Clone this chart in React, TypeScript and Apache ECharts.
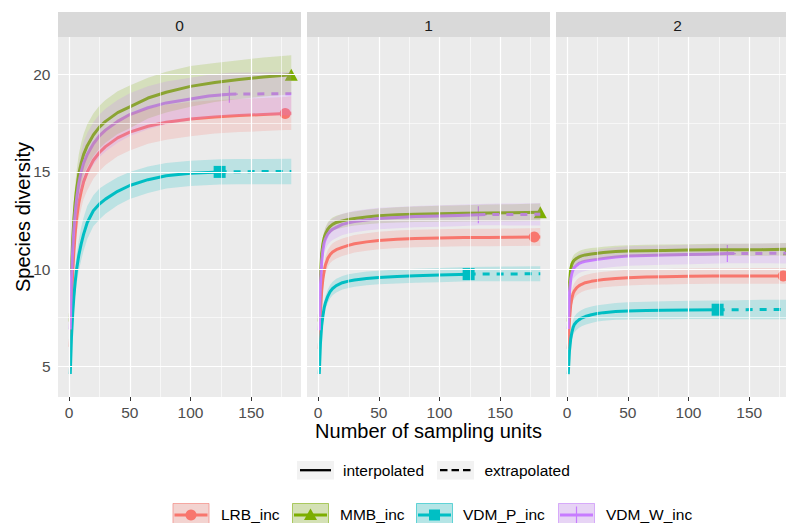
import React, { useEffect, useRef } from "react";
import * as echarts from "echarts";

const FONT = "'Liberation Sans', Arial, Helvetica, sans-serif";

// Facets: diversity order q
const orders = ["0", "1", "2"];
const xTicks = [0, 50, 100, 150];
const xMinorTicks = [25, 75, 125, 175];
const yTicks = [5, 10, 15, 20];
const yMinorTicks = [7.5, 12.5, 17.5];

const assemblageNames = ["LRB_inc", "MMB_inc", "VDM_P_inc", "VDM_W_inc"];
const palette = ["#F8766D", "#7CAE00", "#00BFC4", "#C77CFF"];
const methodNames = ["interpolated", "extrapolated"];

// Sampling units along each curve; the reference size splits interpolation / extrapolation
const tLRB = [1, 2, 3, 4, 5, 6, 8, 10, 12, 15, 20, 25, 30, 40, 50, 65, 80, 100, 120, 140, 160, 178, 183];
const tMMB = [1, 2, 3, 4, 5, 6, 8, 10, 12, 15, 20, 25, 30, 40, 50, 65, 80, 100, 120, 140, 160, 183];
const tVDMP = [1, 2, 3, 4, 5, 6, 8, 10, 12, 15, 20, 25, 30, 40, 50, 65, 80, 100, 124, 140, 160, 183];
const tVDMW = [1, 2, 3, 4, 5, 6, 8, 10, 12, 15, 20, 25, 30, 40, 50, 65, 80, 100, 115, 132, 150, 166, 183];
const obsLRB = 178;
const obsMMB = 183;
const obsVDMP = 124;
const obsVDMW = 132;

// q = 0 (richness): estimates and 95% CI half-widths
const lrbQ0 = [6.0, 8.3, 9.8, 10.9, 11.8, 12.5, 13.4, 14.0, 14.5, 15.0, 15.6, 16.0, 16.3, 16.75, 17.05, 17.35, 17.55, 17.72, 17.83, 17.9, 17.95, 18.0, 18.02];
const lrbQ0Ci = [0.3, 0.5, 0.6, 0.7, 0.75, 0.8, 0.85, 0.9, 0.9, 0.95, 0.95, 0.95, 0.95, 0.95, 0.95, 0.9, 0.9, 0.88, 0.86, 0.85, 0.85, 0.85, 0.87];
const mmbQ0 = [7.3, 10.0, 11.5, 12.6, 13.4, 14.0, 14.9, 15.45, 15.9, 16.35, 16.9, 17.3, 17.6, 18.05, 18.35, 18.8, 19.1, 19.4, 19.6, 19.75, 19.88, 20.0];
const mmbQ0Ci = [0.35, 0.6, 0.75, 0.85, 0.9, 0.95, 1.0, 1.05, 1.05, 1.1, 1.1, 1.1, 1.1, 1.1, 1.1, 1.05, 1.05, 1.05, 1.0, 1.0, 1.0, 1.0];
const vdmpQ0 = [4.6, 6.5, 7.7, 8.6, 9.3, 9.9, 10.7, 11.3, 11.8, 12.4, 13.0, 13.35, 13.6, 14.0, 14.3, 14.6, 14.8, 14.93, 15.0, 15.01, 15.02, 15.02];
const vdmpQ0Ci = [0.25, 0.45, 0.55, 0.65, 0.7, 0.75, 0.8, 0.85, 0.85, 0.85, 0.8, 0.8, 0.75, 0.72, 0.7, 0.68, 0.66, 0.65, 0.65, 0.65, 0.65, 0.66];
const vdmwQ0 = [6.9, 9.5, 11.0, 12.1, 12.9, 13.5, 14.4, 15.0, 15.45, 15.9, 16.45, 16.85, 17.15, 17.6, 17.95, 18.3, 18.55, 18.75, 18.9, 19.0, 19.01, 19.02, 19.02];
const vdmwQ0Ci = [0.35, 0.6, 0.75, 0.85, 0.9, 0.95, 1.0, 1.05, 1.1, 1.1, 1.1, 1.1, 1.1, 1.1, 1.1, 1.1, 1.1, 1.1, 1.1, 1.1, 1.1, 1.11, 1.12];

// q = 1 (Shannon)
const lrbQ1 = [5.9, 7.8, 8.9, 9.5, 9.9, 10.2, 10.55, 10.75, 10.88, 11.0, 11.12, 11.22, 11.3, 11.4, 11.47, 11.53, 11.57, 11.6, 11.62, 11.63, 11.64, 11.65, 11.65];
const lrbQ1Ci = [0.2, 0.3, 0.35, 0.38, 0.4, 0.42, 0.43, 0.44, 0.45, 0.45, 0.45, 0.45, 0.45, 0.45, 0.45, 0.45, 0.45, 0.45, 0.45, 0.45, 0.45, 0.45, 0.46];
const mmbQ1 = [7.3, 9.7, 10.8, 11.3, 11.6, 11.8, 12.05, 12.2, 12.3, 12.4, 12.48, 12.55, 12.6, 12.68, 12.74, 12.79, 12.82, 12.85, 12.87, 12.89, 12.9, 12.92];
const mmbQ1Ci = [0.2, 0.28, 0.3, 0.32, 0.33, 0.34, 0.35, 0.35, 0.35, 0.35, 0.35, 0.36, 0.36, 0.37, 0.38, 0.39, 0.4, 0.41, 0.42, 0.43, 0.44, 0.45];
const vdmpQ1 = [4.6, 6.2, 7.1, 7.6, 8.0, 8.25, 8.6, 8.85, 9.0, 9.15, 9.3, 9.38, 9.44, 9.52, 9.57, 9.62, 9.66, 9.69, 9.74, 9.75, 9.75, 9.76];
const vdmpQ1Ci = [0.15, 0.25, 0.3, 0.32, 0.33, 0.34, 0.35, 0.35, 0.35, 0.35, 0.35, 0.35, 0.35, 0.35, 0.35, 0.36, 0.36, 0.37, 0.37, 0.37, 0.38, 0.38];
const vdmwQ1 = [6.85, 9.2, 10.4, 11.0, 11.35, 11.55, 11.8, 11.95, 12.05, 12.15, 12.3, 12.38, 12.45, 12.53, 12.6, 12.65, 12.7, 12.73, 12.76, 12.8, 12.81, 12.81, 12.82];
const vdmwQ1Ci = [0.25, 0.4, 0.45, 0.5, 0.52, 0.55, 0.55, 0.55, 0.55, 0.55, 0.55, 0.55, 0.55, 0.55, 0.55, 0.55, 0.55, 0.55, 0.55, 0.55, 0.56, 0.57, 0.58];

// q = 2 (Simpson)
const lrbQ2 = [5.9, 7.4, 8.15, 8.5, 8.75, 8.88, 9.05, 9.15, 9.22, 9.3, 9.37, 9.42, 9.46, 9.52, 9.56, 9.59, 9.61, 9.63, 9.64, 9.64, 9.65, 9.65, 9.65];
const lrbQ2Ci = [0.2, 0.3, 0.35, 0.37, 0.38, 0.39, 0.4, 0.4, 0.4, 0.4, 0.4, 0.4, 0.4, 0.4, 0.4, 0.4, 0.4, 0.4, 0.4, 0.4, 0.4, 0.4, 0.41];
const mmbQ2 = [7.3, 9.3, 10.0, 10.25, 10.38, 10.46, 10.56, 10.63, 10.68, 10.73, 10.78, 10.81, 10.85, 10.9, 10.93, 10.95, 10.96, 10.98, 10.99, 11.0, 11.0, 11.02];
const mmbQ2Ci = [0.2, 0.25, 0.28, 0.29, 0.3, 0.3, 0.3, 0.3, 0.3, 0.3, 0.3, 0.3, 0.3, 0.3, 0.3, 0.3, 0.3, 0.3, 0.31, 0.31, 0.32, 0.32];
const vdmpQ2 = [4.6, 5.8, 6.4, 6.75, 7.0, 7.15, 7.3, 7.4, 7.48, 7.56, 7.65, 7.72, 7.76, 7.82, 7.85, 7.87, 7.88, 7.9, 7.91, 7.91, 7.92, 7.92];
const vdmpQ2Ci = [0.15, 0.28, 0.35, 0.38, 0.4, 0.41, 0.42, 0.42, 0.42, 0.42, 0.42, 0.42, 0.42, 0.43, 0.44, 0.45, 0.46, 0.47, 0.48, 0.49, 0.5, 0.5];
const vdmwQ2 = [6.92, 8.8, 9.5, 9.8, 9.98, 10.08, 10.2, 10.3, 10.35, 10.4, 10.46, 10.5, 10.55, 10.62, 10.67, 10.7, 10.72, 10.75, 10.77, 10.8, 10.8, 10.81, 10.81];
const vdmwQ2Ci = [0.25, 0.38, 0.43, 0.46, 0.48, 0.5, 0.5, 0.5, 0.5, 0.5, 0.5, 0.5, 0.5, 0.5, 0.5, 0.5, 0.5, 0.5, 0.5, 0.5, 0.5, 0.51, 0.52];

const PLUS_PATH = "path://M-0.07,-1H0.07V1H-0.07ZM-1,-0.07H1V0.07H-1Z";

const curves = [
  { name: assemblageNames[0], color: palette[0], t: tLRB, obs: obsLRB, est: [lrbQ0, lrbQ1, lrbQ2], ci: [lrbQ0Ci, lrbQ1Ci, lrbQ2Ci], symbol: "circle", symbolSize: 11 },
  { name: assemblageNames[1], color: palette[1], t: tMMB, obs: obsMMB, est: [mmbQ0, mmbQ1, mmbQ2], ci: [mmbQ0Ci, mmbQ1Ci, mmbQ2Ci], symbol: "triangle", symbolSize: [13, 12] },
  { name: assemblageNames[2], color: palette[2], t: tVDMP, obs: obsVDMP, est: [vdmpQ0, vdmpQ1, vdmpQ2], ci: [vdmpQ0Ci, vdmpQ1Ci, vdmpQ2Ci], symbol: "rect", symbolSize: 12 },
  { name: assemblageNames[3], color: palette[3], t: tVDMW, obs: obsVDMW, est: [vdmwQ0, vdmwQ1, vdmwQ2], ci: [vdmwQ0Ci, vdmwQ1Ci, vdmwQ2Ci], symbol: PLUS_PATH, symbolSize: 17 },
];

// Panel geometry
const PANEL_LEFT = [58, 307, 556];
const PANEL_TOP = 37;
const PANEL_W = 243;
const PANEL_H = 360;
const X_MIN = -9.1;
const X_MAX = 191;
const Y_MIN = 3.42;
const Y_MAX = 21.94;

function rgba(hex: string, a: number) {
  const n = parseInt(hex.slice(1), 16);
  return `rgba(${(n >> 16) & 255},${(n >> 8) & 255},${n & 255},${a})`;
}

function textEl(text: string, x: number, y: number, size: number, fill: string, align = "left", rotation = 0) {
  return {
    type: "text",
    x,
    y,
    rotation,
    silent: true,
    style: {
      text,
      fontSize: size,
      fontFamily: FONT,
      fill,
      align,
      textAlign: align,
      verticalAlign: "middle",
      textVerticalAlign: "middle",
    },
  };
}

function buildOption() {
  const grids: any[] = [];
  const xAxes: any[] = [];
  const yAxes: any[] = [];
  const series: any[] = [];

  orders.forEach((_, g) => {
    grids.push({
      left: PANEL_LEFT[g],
      top: PANEL_TOP,
      width: PANEL_W,
      height: PANEL_H,
      show: true,
      backgroundColor: "#EBEBEB",
      borderWidth: 0,
      containLabel: false,
      outerBoundsMode: "none",
    });
    xAxes.push({
      type: "value",
      gridIndex: g,
      min: X_MIN,
      max: X_MAX,
      splitLine: { show: false },
      minorSplitLine: { show: false },
      axisLine: { show: false },
      axisTick: { show: true, length: 4, lineStyle: { color: "#333333", width: 1 }, customValues: xTicks },
      axisLabel: { show: true, customValues: xTicks, color: "#4D4D4D", fontSize: 15.5, fontFamily: FONT, margin: 7 },
    });
    yAxes.push({
      type: "value",
      gridIndex: g,
      min: Y_MIN,
      max: Y_MAX,
      show: g === 0,
      splitLine: { show: false },
      axisLine: { show: false },
      axisTick: { show: g === 0, length: 4.5, lineStyle: { color: "#333333", width: 1 }, customValues: yTicks },
      axisLabel: { show: g === 0, customValues: yTicks, color: "#4D4D4D", fontSize: 15.5, fontFamily: FONT, margin: 7.5 },
    });

    // panel grid lines
    const minor = { color: "#FFFFFF", width: 0.6, type: "solid" };
    const major = { color: "#FFFFFF", width: 1.2, type: "solid" };
    series.push({
      type: "line",
      xAxisIndex: g,
      yAxisIndex: g,
      data: [],
      z: 1,
      silent: true,
      markLine: {
        silent: true,
        animation: false,
        symbol: ["none", "none"],
        label: { show: false },
        emphasis: { disabled: true },
        data: [
          ...xMinorTicks.map((v) => ({ xAxis: v, lineStyle: minor })),
          ...yMinorTicks.map((v) => ({ yAxis: v, lineStyle: minor })),
          ...xTicks.map((v) => ({ xAxis: v, lineStyle: major })),
          ...yTicks.map((v) => ({ yAxis: v, lineStyle: major })),
        ],
      },
    });

    curves.forEach((c) => {
      const est = c.est[g];
      const ci = c.ci[g];
      const pts = c.t.map((x, i) => [x, est[i]]);
      const interp = pts.filter((p) => p[0] <= c.obs);
      const extrap = pts.filter((p) => p[0] >= c.obs);
      const obsPoint = pts.find((p) => p[0] === c.obs);

      // observed sample
      series.push({
        type: "scatter",
        name: c.name,
        xAxisIndex: g,
        yAxisIndex: g,
        z: 2,
        silent: true,
        data: obsPoint ? [obsPoint] : [],
        symbol: c.symbol,
        symbolSize: c.symbolSize,
        itemStyle: { color: c.color, opacity: 1 },
      });

      series.push({
        type: "line",
        name: c.name,
        xAxisIndex: g,
        yAxisIndex: g,
        z: 3,
        silent: true,
        data: interp,
        showSymbol: false,
        symbol: "none",
        lineStyle: { color: c.color, width: 3, join: "round", cap: "butt" },
      });
      if (extrap.length > 1) {
        series.push({
          type: "line",
          name: c.name,
          xAxisIndex: g,
          yAxisIndex: g,
          z: 3,
          silent: true,
          data: extrap,
          showSymbol: false,
          symbol: "none",
          lineStyle: { color: c.color, width: 3, type: [7, 7], cap: "butt" },
        });
      }

      // confidence band
      const rows = c.t.map((x, i) => [x, est[i] - ci[i], est[i] + ci[i]]);
      series.push({
        type: "custom",
        name: c.name,
        xAxisIndex: g,
        yAxisIndex: g,
        z: 4,
        silent: true,
        data: rows,
        renderItem: (params: any, api: any) => {
          if (params.dataIndex !== 0) return null;
          const upper = rows.map((r) => api.coord([r[0], r[2]]));
          const lower = rows.map((r) => api.coord([r[0], r[1]])).reverse();
          return {
            type: "polygon",
            shape: { points: upper.concat(lower) },
            style: { fill: rgba(c.color, 0.2) },
          };
        },
      });
    });
  });

  // strips, titles and legends
  const els: any[] = [];
  orders.forEach((lab, g) => {
    els.push({ type: "rect", silent: true, shape: { x: PANEL_LEFT[g], y: 12, width: PANEL_W, height: 25 }, style: { fill: "#D9D9D9" } });
    els.push(textEl(lab, PANEL_LEFT[g] + PANEL_W / 2, 25, 15.5, "#1A1A1A", "center"));
  });
  els.push(textEl("Species diversity", 22.5, 217, 20, "#000000", "center", Math.PI / 2));
  els.push(textEl("Number of sampling units", 428.5, 431, 20, "#000000", "center"));

  // line type legend
  const ltKeys = [297, 437];
  const ltText = [343, 484.5];
  methodNames.forEach((m, i) => {
    els.push({ type: "rect", silent: true, shape: { x: ltKeys[i], y: 461, width: 37, height: 18.5 }, style: { fill: "#F2F2F2" } });
    els.push({
      type: "line",
      silent: true,
      shape: { x1: ltKeys[i] + 3, y1: 470.2, x2: ltKeys[i] + 34, y2: 470.2 },
      style: { stroke: "#000000", lineWidth: 2.3, lineDash: i === 0 ? null : [7.5, 4] },
    });
    els.push(textEl(m, ltText[i], 470.5, 15.5, "#000000"));
  });

  // assemblage legend
  const keyX = [172.5, 292, 416, 558];
  const textX = [221, 340, 463, 606];
  const ky = 503;
  const kh = 24;
  const cy = ky + kh / 2;
  curves.forEach((c, i) => {
    const x0 = keyX[i];
    const cx = x0 + 18.5;
    els.push({ type: "rect", silent: true, shape: { x: x0, y: ky, width: 37, height: kh }, style: { fill: "#F2F2F2" } });
    els.push({
      type: "rect",
      silent: true,
      shape: { x: x0 + 0.5, y: ky + 0.5, width: 36, height: kh - 1 },
      style: { fill: rgba(c.color, 0.25), stroke: rgba(c.color, 0.55), lineWidth: 1 },
    });
    els.push({ type: "line", silent: true, shape: { x1: x0 + 2, y1: cy, x2: x0 + 35, y2: cy }, style: { stroke: c.color, lineWidth: 3 } });
    if (i === 0) els.push({ type: "circle", silent: true, shape: { cx, cy, r: 5.5 }, style: { fill: c.color } });
    if (i === 1)
      els.push({ type: "polygon", silent: true, shape: { points: [[cx, cy - 6.5], [cx - 6.5, cy + 5], [cx + 6.5, cy + 5]] }, style: { fill: c.color } });
    if (i === 2) els.push({ type: "rect", silent: true, shape: { x: cx - 5.5, y: cy - 5.5, width: 11, height: 11 }, style: { fill: c.color } });
    if (i === 3)
      els.push({ type: "line", silent: true, shape: { x1: cx, y1: cy - 8.5, x2: cx, y2: cy + 8.5 }, style: { stroke: c.color, lineWidth: 1.2 } });
    els.push(textEl(c.name, textX[i], cy - 0.5, 15.5, "#000000"));
  });

  return {
    animation: false,
    backgroundColor: "#FFFFFF",
    grid: grids,
    xAxis: xAxes,
    yAxis: yAxes,
    series,
    graphic: { elements: els },
  };
}

export default function App() {
  const ref = useRef<HTMLDivElement>(null);
  useEffect(() => {
    if (!ref.current) return;
    const chart = echarts.init(ref.current, undefined, { renderer: "svg" });
    chart.setOption(buildOption() as any);
    return () => chart.dispose();
  }, []);
  return (
    <div style={{ position: "fixed", left: 0, top: 0, width: 786, height: 523, overflow: "hidden", background: "#FFFFFF" }}>
      <div ref={ref} style={{ width: 800, height: 523 }} />
    </div>
  );
}
